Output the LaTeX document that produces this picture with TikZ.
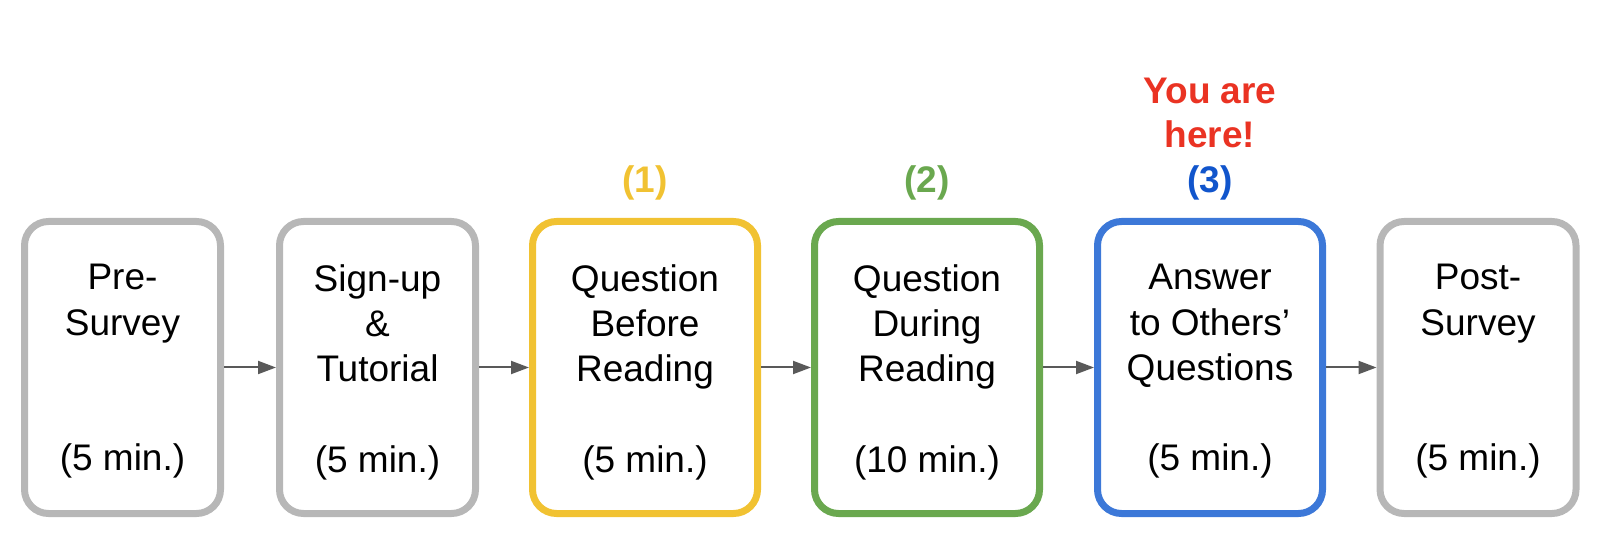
\documentclass[tikz,border=0pt]{standalone}
\usepackage{fontspec}
\setmainfont{Liberation Sans}
\usepackage{xcolor}
\usepackage{tikz}
\usetikzlibrary{arrows.meta}

\definecolor{boxgray}{HTML}{B7B7B7}
\definecolor{boxyellow}{HTML}{F1C232}
\definecolor{boxgreen}{HTML}{6AA84F}
\definecolor{boxblue}{HTML}{3C78D8}
\definecolor{numblue}{HTML}{1155CC}
\definecolor{herered}{HTML}{EA3323}
\definecolor{arrowgray}{HTML}{595959}

\begin{document}
\begin{tikzpicture}[x=0.5pt,y=-0.5pt,
		stepbox/.style={shape=rectangle,rounded corners=12pt,draw=#1,line width=3.5pt,minimum height=146pt,inner sep=0pt},
		narrow/.style={minimum width=98pt},
		wide/.style={minimum width=112.5pt},
		steptext/.style={anchor=north,inner sep=0pt,align=center,font=\fontsize{18.5}{22.6}\selectfont},
		steplabel/.style={inner sep=0pt,align=center,font=\fontsize{18.5}{22}\selectfont\bfseries,text=#1},
		flow/.style={-{Triangle[length=9pt,width=6.5pt]},line width=1pt,color=arrowgray}]
			\useasboundingbox (0,0) rectangle (1600,539);

			\node[stepbox=boxgray,narrow] (pre) at (122.5,367.5) {};
			\node[stepbox=boxgray,narrow] (signup) at (377.5,367.5) {};
			\node[stepbox=boxyellow,wide] (qbefore) at (645,367.5) {};
			\node[stepbox=boxgreen,wide] (qduring) at (927,367.5) {};
			\node[stepbox=boxblue,wide] (answer) at (1210,367.5) {};
			\node[stepbox=boxgray,narrow] (post) at (1478,367.5) {};

			\node[steptext] (pretext) at (122.5,264) {Pre-\\Survey\\~\\~\\(5 min.)};
			\node[steptext] (signuptext) at (377.5,264) {Sign-up\\\&\\Tutorial\\~\\(5 min.)};
			\node[steptext] (qbeforetext) at (645,264) {Question\\Before\\Reading\\~\\(5 min.)};
			\node[steptext] (qduringtext) at (927,264) {Question\\During\\Reading\\~\\(10 min.)};
			\node[steptext] (answertext) at (1210,264) {Answer\\to Others’\\Questions\\~\\(5 min.)};
			\node[steptext] (posttext) at (1478,264) {Post-\\Survey\\~\\~\\(5 min.)};

			%% labels
			\node[steplabel=boxyellow,anchor=base] (one) at (645,193) {(1)};
			\node[steplabel=boxgreen,anchor=base] (two) at (927,193) {(2)};
			\node[steplabel=numblue,anchor=base] (three) at (1210,193) {(3)};
			\node[steplabel=herered,anchor=north] (here) at (1210,78) {You are\\here!};

			%% lines
			\draw[flow] (pre) edge (signup);
			\draw[flow] (signup) edge (qbefore);
			\draw[flow] (qbefore) edge (qduring);
			\draw[flow] (qduring) edge (answer);
			\draw[flow] (answer) edge (post);
		\end{tikzpicture}
\end{document}
